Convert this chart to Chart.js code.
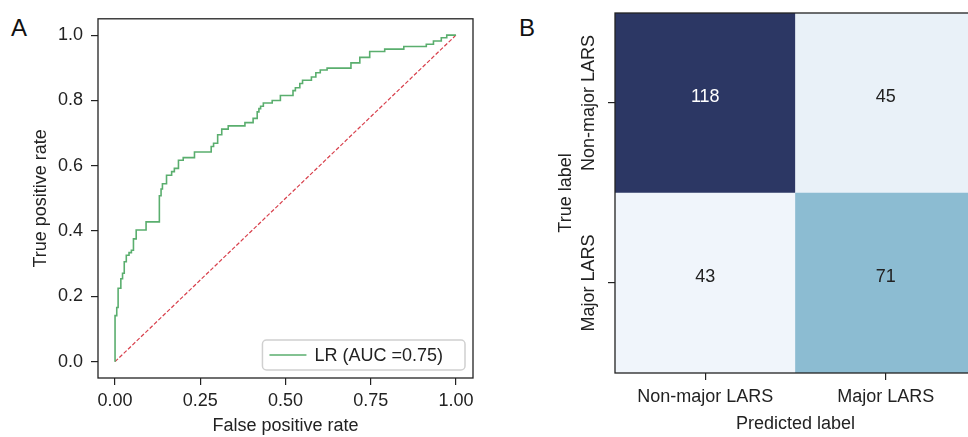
<!DOCTYPE html>
<html>
<head>
<meta charset="utf-8">
<script src="https://cdn.jsdelivr.net/npm/chart.js@4.4.0/dist/chart.umd.min.js"></script>
<style>
  html, body { margin: 0; padding: 0; background: #fff; overflow: hidden; }
  body { width: 968px; height: 437px; position: relative; font-family: "Liberation Sans", Arial, sans-serif; }
  #roc { position: absolute; left: 0; top: 0; }
  #cm { position: absolute; left: 490px; top: 0; }
  .panel { position: absolute; font-size: 24px; color: #111; line-height: 24px; }
</style>
</head>
<body>
<div class="panel" style="left:11px;top:16px">A</div>
<div class="panel" style="left:519px;top:16px">B</div>
<canvas id="roc" width="490" height="437"></canvas>
<canvas id="cm" width="500" height="437"></canvas>
<script>
// ROC curve (step corners)
const fpr = [0, 0, 0.005, 0.009, 0.017, 0.022, 0.027, 0.033, 0.041, 0.048,
  0.054, 0.062, 0.091, 0.130, 0.135, 0.139, 0.151, 0.166, 0.174, 0.186,
  0.200, 0.233, 0.282, 0.289, 0.301, 0.313, 0.332, 0.381, 0.405, 0.417,
  0.422, 0.427, 0.435, 0.461, 0.485, 0.522, 0.529, 0.542, 0.550, 0.576,
  0.589, 0.602, 0.622, 0.692, 0.718, 0.747, 0.791, 0.847, 0.913, 0.934,
  0.957, 0.973, 0.986, 1.0];
const tpr = [0, 0.131, 0.141, 0.166, 0.225, 0.254, 0.271, 0.306, 0.326, 0.334,
  0.341, 0.376, 0.403, 0.428, 0.508, 0.529, 0.545, 0.571, 0.582, 0.592,
  0.617, 0.625, 0.642, 0.659, 0.669, 0.695, 0.712, 0.722, 0.732, 0.745,
  0.765, 0.775, 0.782, 0.792, 0.800, 0.815, 0.830, 0.839, 0.852, 0.862,
  0.872, 0.885, 0.893, 0.899, 0.915, 0.932, 0.950, 0.957, 0.965, 0.972,
  0.982, 0.992, 1.0, 1.0];
const chance = [0, 1];
const rocLabel = "LR (AUC =0.75)";
const fprTicks = [0, 0.25, 0.5, 0.75, 1.0];
const tprTicks = [0, 0.2, 0.4, 0.6, 0.8, 1.0];

// confusion matrix: rows = true label, columns = predicted label
const predLabels = ["Non-major LARS", "Major LARS"];
const trueLabels = ["Non-major LARS", "Major LARS"];
const rowNonMajor = [118, 45];
const rowMajor = [43, 71];

Chart.defaults.font.family = '"Liberation Sans", Arial, sans-serif';
Chart.defaults.font.size = 18;
Chart.defaults.color = "#222";

const ink = "#222";

const frame = {
  id: "frame",
  afterDatasetsDraw(chart) {
    const { ctx, chartArea: a } = chart;
    ctx.save();
    ctx.strokeStyle = ink;
    ctx.lineWidth = 1.3;
    ctx.strokeRect(a.left, a.top, a.right - a.left, a.bottom - a.top);
    ctx.restore();
  }
};

// legend box in the lower right corner, like matplotlib
const rocLegend = {
  id: "rocLegend",
  afterDraw(chart) {
    const { ctx, chartArea: a } = chart;
    const ds = chart.data.datasets[0];
    ctx.save();
    ctx.font = '18px "Liberation Sans", Arial, sans-serif';
    const tw = ctx.measureText(ds.label).width;
    const w = 7 + 37 + 8 + tw + 22, h = 30;
    const x = a.right - 8 - w, y = a.bottom - 8 - h;
    ctx.fillStyle = "rgba(255,255,255,0.85)";
    ctx.strokeStyle = "#d0d0d0";
    ctx.lineWidth = 1.5;
    ctx.beginPath();
    ctx.roundRect(x, y, w, h, 4);
    ctx.fill();
    ctx.stroke();
    ctx.strokeStyle = ds.borderColor;
    ctx.lineWidth = ds.borderWidth;
    ctx.beginPath();
    ctx.moveTo(x + 7, y + h / 2);
    ctx.lineTo(x + 44, y + h / 2);
    ctx.stroke();
    ctx.fillStyle = ink;
    ctx.textBaseline = "middle";
    ctx.fillText(ds.label, x + 52, y + h / 2 + 1);
    ctx.restore();
  }
};

new Chart(document.getElementById("roc"), {
  type: "line",
  data: {
    datasets: [
      {
        label: rocLabel,
        data: fpr.map((x, i) => ({ x: x, y: tpr[i] })),
        stepped: "after",
        borderColor: "#5aae6e",
        borderWidth: 1.6,
        pointRadius: 0,
        fill: false
      },
      {
        label: "chance",
        data: chance.map(v => ({ x: v, y: v })),
        borderColor: "#d8404c",
        borderWidth: 1.2,
        borderDash: [4, 2],
        pointRadius: 0,
        fill: false
      }
    ]
  },
  options: {
    responsive: false,
    animation: false,
    layout: { padding: { top: 13, right: 17, left: 0, bottom: 0 } },
    plugins: { legend: { display: false }, tooltip: { enabled: false } },
    scales: {
      x: {
        type: "linear",
        min: -0.05,
        max: 1.05,
        afterBuildTicks: s => { s.ticks = fprTicks.map(v => ({ value: v })); },
        afterFit: s => { s.height = 59; },
        ticks: { callback: v => v.toFixed(2), padding: 5, color: ink, maxRotation: 0 },
        grid: { drawOnChartArea: false, tickLength: 7, color: ink, lineWidth: 1.2 },
        border: { display: false },
        title: { display: true, text: "False positive rate", color: ink, padding: { top: 0, bottom: 0 } }
      },
      y: {
        type: "linear",
        min: -0.05,
        max: 1.05,
        afterBuildTicks: s => { s.ticks = tprTicks.map(v => ({ value: v })); },
        afterFit: s => { s.width = 98; },
        ticks: { callback: v => v.toFixed(1), padding: 8, color: ink },
        grid: { drawOnChartArea: false, tickLength: 7, color: ink, lineWidth: 1.2 },
        border: { display: false },
        title: { display: true, text: "True positive rate", color: ink, padding: { top: 30, bottom: 0 } }
      }
    }
  },
  plugins: [frame, rocLegend]
});

// colour map for the matrix cells (light -> mid blue -> navy)
const cmap = [[0, [240, 245, 251]], [0.37, [141, 189, 211]], [1, [44, 55, 100]]];
const allVals = rowNonMajor.concat(rowMajor);
const vMin = Math.min(...allVals), vMax = Math.max(...allVals);
function cellColor(v) {
  const t = (v - vMin) / (vMax - vMin);
  for (let i = 1; i < cmap.length; i++) {
    if (t <= cmap[i][0]) {
      const [t0, c0] = cmap[i - 1], [t1, c1] = cmap[i];
      const f = (t - t0) / (t1 - t0);
      const c = c0.map((c, k) => Math.round(c + (c1[k] - c) * f));
      return "rgb(" + c.join(",") + ")";
    }
  }
  return "rgb(" + cmap[cmap.length - 1][1].join(",") + ")";
}

const rows = [rowNonMajor, rowMajor];

// counts written in each cell
const cellText = {
  id: "cellText",
  afterDatasetsDraw(chart) {
    const { ctx } = chart;
    ctx.save();
    ctx.font = '18px "Liberation Sans", Arial, sans-serif';
    ctx.textAlign = "center";
    ctx.textBaseline = "middle";
    chart.data.datasets.forEach((ds, di) => {
      chart.getDatasetMeta(di).data.forEach((bar, i) => {
        const v = ds.counts[i];
        ctx.fillStyle = (v - vMin) / (vMax - vMin) > 0.5 ? "#fff" : ink;
        ctx.fillText(String(v), bar.x, (bar.y + bar.base) / 2 - 6);
      });
    });
    ctx.restore();
  }
};

// rotated tick labels on the true-label axis
const rowLabels = {
  id: "rowLabels",
  afterDraw(chart) {
    const { ctx } = chart;
    const ys = chart.scales.y;
    ctx.save();
    ctx.font = '18px "Liberation Sans", Arial, sans-serif';
    ctx.fillStyle = ink;
    ctx.textAlign = "center";
    ctx.textBaseline = "middle";
    trueLabels.forEach((lab, i) => {
      const y = ys.getPixelForValue(trueLabels.length - i - 0.5);
      ctx.save();
      ctx.translate(ys.right - 7 - 9 - 10, y);
      ctx.rotate(-Math.PI / 2);
      ctx.fillText(lab, 0, 0);
      ctx.restore();
    });
    ctx.restore();
  }
};

// bottom row first so it stacks at the bottom
const cmDatasets = trueLabels.map((lab, r) => ({
  label: lab,
  data: predLabels.map(() => 1),
  counts: rows[r],
  backgroundColor: rows[r].map(cellColor),
  borderWidth: 0,
  barPercentage: 1,
  categoryPercentage: 1
})).reverse();

new Chart(document.getElementById("cm"), {
  type: "bar",
  data: { labels: predLabels, datasets: cmDatasets },
  options: {
    responsive: false,
    animation: false,
    layout: { padding: { top: 13, right: 14, left: 0, bottom: 0 } },
    plugins: { legend: { display: false }, tooltip: { enabled: false } },
    scales: {
      x: {
        stacked: true,
        afterFit: s => { s.height = 64; },
        ticks: { padding: 6, color: ink, maxRotation: 0 },
        grid: { drawOnChartArea: false, tickLength: 7, color: ink, lineWidth: 1.2, offset: false },
        border: { display: false },
        title: { display: true, text: "Predicted label", color: ink, padding: { top: 0, bottom: 2 } }
      },
      y: {
        stacked: true,
        min: 0,
        max: 2,
        afterBuildTicks: s => { s.ticks = [0.5, 1.5].map(v => ({ value: v })); },
        afterFit: s => { s.width = 125; },
        ticks: { display: false },
        grid: { drawOnChartArea: false, tickLength: 7, color: ink, lineWidth: 1.2 },
        border: { display: false },
        title: { display: true, text: "True label", color: ink, padding: { top: 65, bottom: 0 } }
      }
    }
  },
  plugins: [frame, cellText, rowLabels]
});
</script>
</body>
</html>
